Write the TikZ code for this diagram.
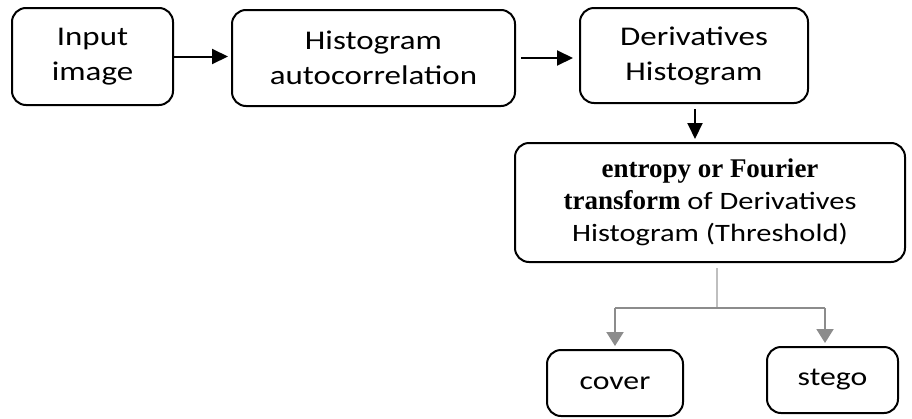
\documentclass[tikz,border=0pt]{standalone}
\usepackage{fontspec}
\setmainfont{Carlito}[FakeStretch=1.22]
\newfontfamily\serifbold{Liberation Serif}
\usetikzlibrary{arrows.meta}
\begin{document}
\begin{tikzpicture}[x=1pt,y=-1pt,
  box/.style={draw=black,line width=2pt,rounded corners=14pt,align=center,inner sep=0pt},
  topfont/.style={font=\fontsize{27}{35}\selectfont},
  bigfont/.style={font=\fontsize{25}{32}\selectfont},
  smallfont/.style={font=\fontsize{26}{32}\selectfont},
  arr/.style={line width=2pt,-{Triangle[length=16pt,width=15pt]}},
  garr/.style={draw=gray!90,line width=2pt,-{Triangle[length=14pt,width=17pt]}}]
\useasboundingbox[fill=white] (0,0) rectangle (912,418);
\node[box,topfont,minimum width=161pt,minimum height=97pt] (in) at (92.5,56.5) {Input\\image};
\node[box,topfont,minimum width=283pt,minimum height=96pt] (hist) at (373.5,58) {Histogram\\autocorrelation};
\node[box,topfont,minimum width=228pt,minimum height=95pt] (der) at (694,55.5) {Derivatives\\Histogram};
\node[box,bigfont,minimum width=390pt,minimum height=119pt] (big) at (710,202.5)
  {{\fontsize{27}{32}\serifbold\bfseries entropy or Fourier}\\{\fontsize{27}{32}\serifbold\bfseries transform} of Derivatives\\Histogram (Threshold)};
\node[box,smallfont,minimum width=136pt,minimum height=66pt] (cov) at (615,383) {cover};
\node[box,smallfont,minimum width=131pt,minimum height=66pt] (steg) at (832.5,380) {stego};
\draw[arr,shorten >=3pt] (in.east) -- (in.east -| hist.west);
\draw[arr,shorten >=6pt,shorten <=5pt] (hist.east) -- (hist.east -| der.west);
\draw[arr,shorten >=3pt,shorten <=5pt] (der.south -| 695,0) -- (big.north -| 695,0);
\coordinate (split) at (717,308);
\coordinate (cl) at (615,308);
\coordinate (sr) at (825,308);
\draw[gray!50,line width=2pt] (big.south -| split) ++(0,5) -- (split);
\draw[gray!90,line width=2pt] (cl) -- (sr);
\draw[garr,shorten >=3pt] (cl) -- (cov.north -| cl);
\draw[garr,shorten >=3pt] (sr) -- (steg.north -| sr);
\end{tikzpicture}
\end{document}
